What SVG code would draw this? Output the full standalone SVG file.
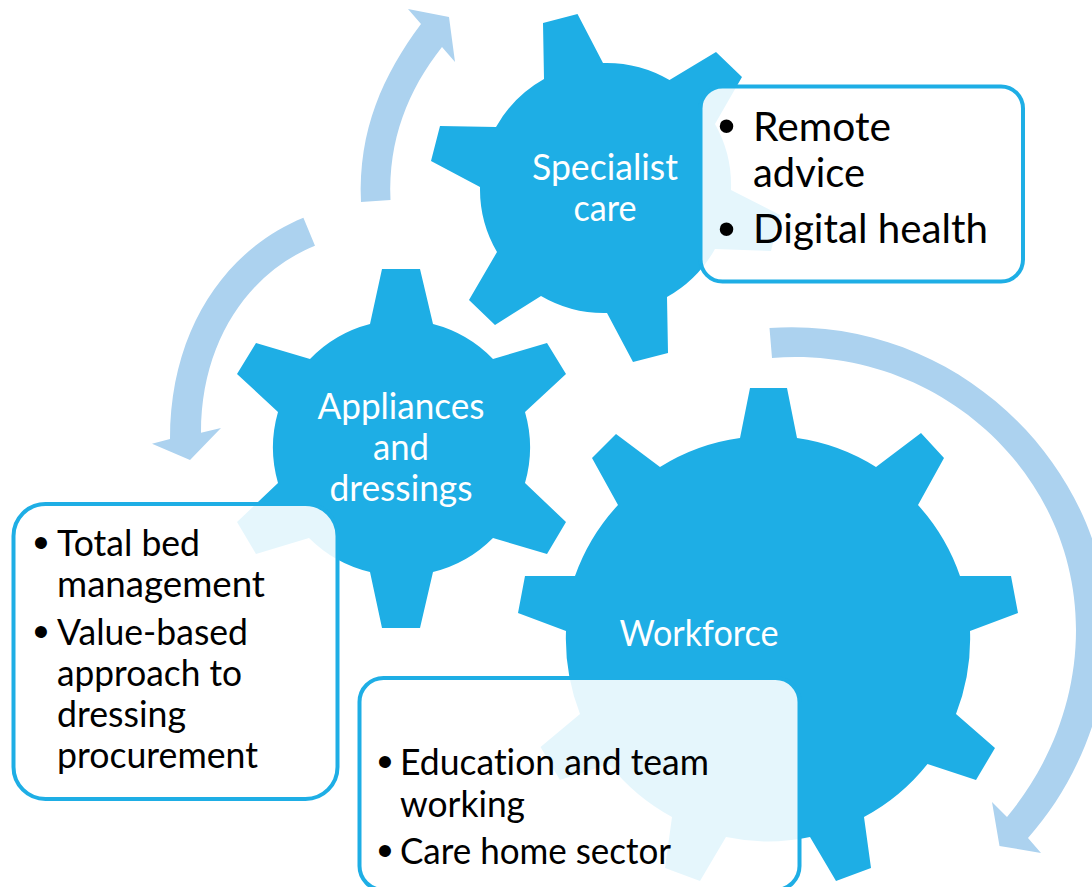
<svg xmlns="http://www.w3.org/2000/svg" width="1092" height="887" viewBox="0 0 1092 887">
<style>
.gear{fill:#1eaee5}
.arrow{fill:#acd2ef}
.box{fill:#fff;fill-opacity:.885;stroke:#1eaee5;stroke-width:4}
text{font-family:"Lato","Open Sans",sans-serif;font-variant-ligatures:none}
.w{fill:#fff;font-size:36px;text-anchor:middle}
.b{fill:#000;font-size:36px}
.big{font-size:40px}
.dot{font-family:"Liberation Sans",sans-serif;font-size:44px;text-anchor:middle}
.dotbig{font-size:50px}
</style>
<rect width="1092" height="887" fill="#fff"/>
<g id="connectors">
<path class="arrow" d="M361 202C358 130 383 75 421 24L408 9L449 17L455 62L442 47C408 90 388 140 390.500 200Z"/>
<path class="arrow" d="M303.400 217.700C225 250 170 330 170 439L152 443.700L190 460L221 428L201 432.700C201 340 250 272 315 245.700Z"/>
<path class="arrow" d="M769.500 328C960 315 1108 470 1108 630C1108 710 1075 785 1028 838L1041 853L999.500 846L992 802L1007 817C1050 765 1076 700 1076 630C1076 470 935 345 772 358Z"/>
</g>
<g id="gear-specialist-care">
<path class="gear" d="M543 23L577.500 14L603 63A125 125 0 0 1 669.500 80L716 52L742 77L715 124A125 125 0 0 1 731 190L780 215L771 251L715 249A125 125 0 0 1 667 297L668 353L633 362L607 313A125 125 0 0 1 541 296L495 325L469 300L497 252A125 125 0 0 1 480 187L431 161L440 126L496 127A125 125 0 0 1 544 79Z"/>
<text class="w" x="605" y="180" textLength="146" lengthAdjust="spacingAndGlyphs">Specialist</text>
<text class="w" x="605" y="221" textLength="63" lengthAdjust="spacingAndGlyphs">care</text>
</g>
<g id="gear-appliances-and-dressings">
<path class="gear" d="M382 269L420 269L433 324A128 128 0 0 1 493 359L547 343L566 374L525 412A128 128 0 0 1 525 483L566 522L547 554L493 538A128 128 0 0 1 433 572L420 628L382 628L370 572A128 128 0 0 1 309 538L256 554L237 522L278 483A128 128 0 0 1 278 412L237 374L256 343L310 359A128 128 0 0 1 370 324Z"/>
<text class="w" x="401" y="419" textLength="167" lengthAdjust="spacingAndGlyphs">Appliances</text>
<text class="w" x="401" y="460" textLength="56" lengthAdjust="spacingAndGlyphs">and</text>
<text class="w" x="401" y="501" textLength="143" lengthAdjust="spacingAndGlyphs">dressings</text>
</g>
<g id="gear-workforce">
<path class="gear" d="M750 388L787 388L797 438A203 205 0 0 1 876 467L921 433L944 458L918 505A203 205 0 0 1 960 576L1011 576L1018 613L970 631A203 205 0 0 1 956 714L995 748L976 780L927.500 764A203 205 0 0 1 864 817L871 868L836 881L810 837A203 205 0 0 1 726 837L700 881L665 868L672 817A203 205 0 0 1 609 764L560 780L540.500 747L580 714A203 205 0 0 1 566 631L518 613L525 576L575 576A203 205 0 0 1 618 505L592 458L616 434L660 467A203 205 0 0 1 740 438Z"/>
<text class="w" x="699" y="646" textLength="159" lengthAdjust="spacingAndGlyphs">Workforce</text>
</g>
<g id="box-specialist-care">
<rect class="box" x="700.500" y="86.500" width="322.500" height="195" rx="22"/>
<text class="b dot dotbig" x="726.500" y="142.500">•</text>
<text class="b big" x="753" y="141" textLength="138" lengthAdjust="spacingAndGlyphs">Remote</text>
<text class="b big" x="753" y="187" textLength="112" lengthAdjust="spacingAndGlyphs">advice</text>
<text class="b dot dotbig" x="726.500" y="245.500">•</text>
<text class="b big" x="753" y="243" textLength="235" lengthAdjust="spacingAndGlyphs">Digital health</text>
</g>
<g id="box-appliances-and-dressings">
<rect class="box" x="13.500" y="504" width="324" height="295" rx="32"/>
<text class="b dot" x="41" y="558">•</text>
<text class="b" x="57" y="556" textLength="143" lengthAdjust="spacingAndGlyphs">Total bed</text>
<text class="b" x="57" y="597" textLength="208" lengthAdjust="spacingAndGlyphs">management</text>
<text class="b dot" x="41" y="647">•</text>
<text class="b" x="57" y="645" textLength="191" lengthAdjust="spacingAndGlyphs">Value-based</text>
<text class="b" x="57" y="686" textLength="185" lengthAdjust="spacingAndGlyphs">approach to</text>
<text class="b" x="57" y="727" textLength="129" lengthAdjust="spacingAndGlyphs">dressing</text>
<text class="b" x="57" y="768" textLength="201" lengthAdjust="spacingAndGlyphs">procurement</text>
</g>
<g id="box-workforce">
<rect class="box" x="359.500" y="678" width="440" height="212" rx="24"/>
<text class="b dot" x="385" y="777">•</text>
<text class="b" x="400" y="775" textLength="309" lengthAdjust="spacingAndGlyphs">Education and team</text>
<text class="b" x="400" y="817" textLength="125" lengthAdjust="spacingAndGlyphs">working</text>
<text class="b dot" x="385" y="866">•</text>
<text class="b" x="400" y="864" textLength="271" lengthAdjust="spacingAndGlyphs">Care home sector</text>
</g>
</svg>
